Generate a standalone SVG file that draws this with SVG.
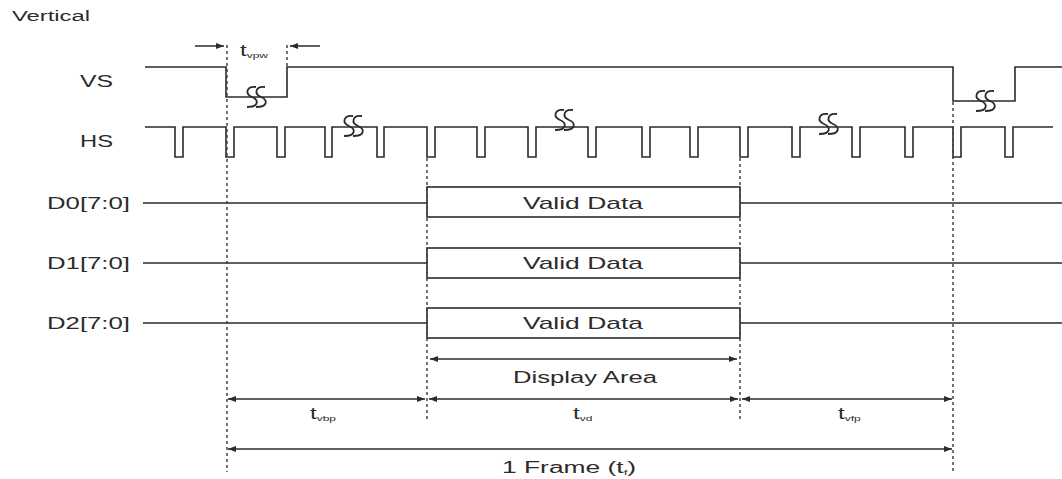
<svg xmlns="http://www.w3.org/2000/svg" width="1062" height="479" viewBox="0 0 1062 479">
<style>
.sig{fill:none;stroke:#2b2b2b;stroke-width:1.6}
.dash{fill:none;stroke:#444;stroke-width:1.5;stroke-dasharray:3 3}
.arr{fill:none;stroke:#2b2b2b;stroke-width:1.5}
.lbl{font-family:"Liberation Sans",Arial,sans-serif;font-size:16px;fill:#2b2b2b}
.brk{fill:none;stroke:#2b2b2b;stroke-width:1.8}
</style>
<defs>
<marker id="ah" viewBox="0 0 8 6" refX="8" refY="3" markerWidth="8" markerHeight="6" markerUnits="userSpaceOnUse" orient="auto-start-reverse">
<path d="M0,0 L8,3 L0,6 z" fill="#2b2b2b"/>
</marker>
<g id="brk">
<path class="brk" d="M3,-10 C-7,-11 -8,-3 -1,0 C6,3 6,10 -6,10"/>
<path class="brk" d="M12,-10 C2,-11 1,-3 8,0 C15,3 15,10 3,10"/>
</g>
</defs>

<g id="title"><text class="lbl" x="12" y="21" textLength="78" lengthAdjust="spacingAndGlyphs" style="font-size:14px">Vertical</text></g>

<g id="vs">
<text class="lbl" x="80" y="87" textLength="33" lengthAdjust="spacingAndGlyphs">VS</text>
<path class="sig" d="M145,67 H226 V97 H287 V67 H953 V101 H1015 V67 H1062"/>
<use href="#brk" x="253" y="97"/>
<use href="#brk" x="982" y="101"/>
</g>

<g id="hs">
<text class="lbl" x="80" y="147" textLength="33" lengthAdjust="spacingAndGlyphs">HS</text>
<path class="sig" d="M145,127 H175 V157 H183 V127 H226 V157 H234 V127 H277 V157 H285 V127 H325 V157 H332 V127 H377 V157 H384 V127 H427 V157 H435 V127 H477 V157 H485 V127 H528 V157 H536 V127 H588 V157 H596 V127 H642 V157 H650 V127 H690 V157 H698 V127 H740 V157 H748 V127 H792 V157 H800 V127 H852 V157 H860 V127 H905 V157 H913 V127 H953 V157 H961 V127 H1005 V157 H1013 V127 H1053"/>
<use href="#brk" x="350" y="126"/>
<use href="#brk" x="561" y="120"/>
<use href="#brk" x="825" y="124"/>
</g>

<g id="d0">
<text class="lbl" x="47" y="209" textLength="83" lengthAdjust="spacingAndGlyphs">D0[7:0]</text>
<path class="sig" d="M143,203 H427 M740,203 H1062"/>
<rect class="sig" x="427" y="187" width="313" height="30"/>
<text class="lbl" x="523" y="209" textLength="120" lengthAdjust="spacingAndGlyphs" style="font-size:17px">Valid Data</text>
</g>
<g id="d1">
<text class="lbl" x="47" y="269" textLength="83" lengthAdjust="spacingAndGlyphs">D1[7:0]</text>
<path class="sig" d="M143,263 H427 M740,263 H1062"/>
<rect class="sig" x="427" y="248" width="313" height="30"/>
<text class="lbl" x="523" y="269" textLength="120" lengthAdjust="spacingAndGlyphs" style="font-size:17px">Valid Data</text>
</g>
<g id="d2">
<text class="lbl" x="47" y="329" textLength="83" lengthAdjust="spacingAndGlyphs">D2[7:0]</text>
<path class="sig" d="M143,323 H427 M740,323 H1062"/>
<rect class="sig" x="427" y="308" width="313" height="30"/>
<text class="lbl" x="523" y="329" textLength="120" lengthAdjust="spacingAndGlyphs" style="font-size:17px">Valid Data</text>
</g>

<g id="connectors">
<path class="dash" d="M227,45 V472"/>
<path class="dash" d="M287,45 V66"/>
<path class="dash" d="M427,158 V420"/>
<path class="dash" d="M740,158 V420"/>
<path class="dash" d="M953,102 V472"/>
<path class="arr" d="M195,46 H224" marker-end="url(#ah)"/>
<path class="arr" d="M320,46 H290" marker-end="url(#ah)"/>
<path class="arr" d="M430,359 H737" marker-start="url(#ah)" marker-end="url(#ah)"/>
<path class="arr" d="M228,399 H425" marker-start="url(#ah)" marker-end="url(#ah)"/>
<path class="arr" d="M429,399 H738" marker-start="url(#ah)" marker-end="url(#ah)"/>
<path class="arr" d="M742,399 H952" marker-start="url(#ah)" marker-end="url(#ah)"/>
<path class="arr" d="M228,449 H952" marker-start="url(#ah)" marker-end="url(#ah)"/>
</g>

<g id="labels">
<text class="lbl" transform="translate(240 56) scale(1.5 1)">t<tspan style="font-size:8px" dy="2">vpw</tspan></text>
<text class="lbl" transform="translate(310 419) scale(1.5 1)">t<tspan style="font-size:8px" dy="2">vbp</tspan></text>
<text class="lbl" transform="translate(573 419) scale(1.5 1)">t<tspan style="font-size:8px" dy="2">vd</tspan></text>
<text class="lbl" transform="translate(838 419) scale(1.5 1)">t<tspan style="font-size:8px" dy="2">vfp</tspan></text>
<text class="lbl" x="513" y="383" textLength="144" lengthAdjust="spacingAndGlyphs">Display Area</text>
<text class="lbl" transform="translate(502 473) scale(1.65 1)">1 Frame (t<tspan style="font-size:8px" dy="2">f</tspan><tspan dy="-2">)</tspan></text>
</g>
</svg>
